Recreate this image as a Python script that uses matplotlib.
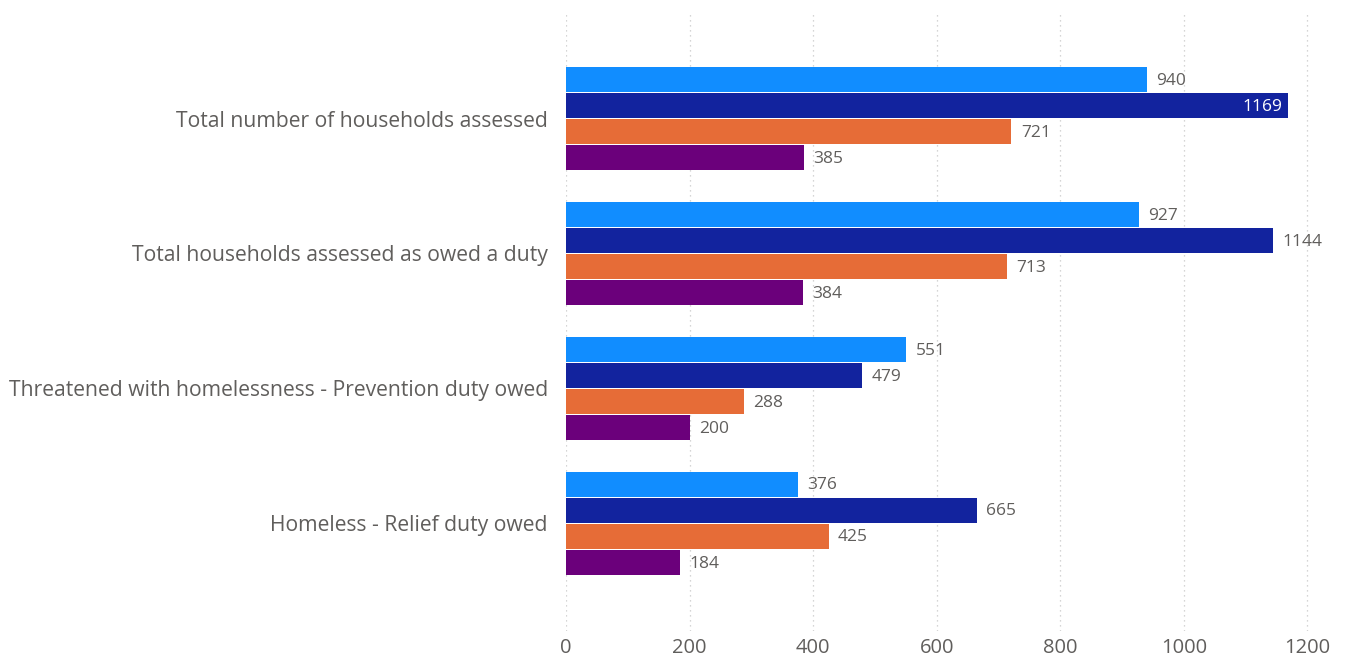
import matplotlib
matplotlib.use("Agg")
import matplotlib.pyplot as plt
import numpy as np

categories = [
    "Total number of households assessed",
    "Total households assessed as owed a duty",
    "Threatened with homelessness - Prevention duty owed",
    "Homeless - Relief duty owed",
]
series_a = [940, 927, 551, 376]
series_b = [1169, 1144, 479, 665]
series_c = [721, 713, 288, 425]
series_d = [385, 384, 200, 184]
x_ticks = [0, 200, 400, 600, 800, 1000, 1200]

colors = ["#118DFF", "#12239E", "#E66C37", "#6B007B"]
series = [series_a, series_b, series_c, series_d]

plt.rcParams["font.family"] = ["Open Sans", "DejaVu Sans"]

fig = plt.figure(figsize=(13.46, 6.59), dpi=100)
ax = fig.add_axes([566 / 1346, 1 - 631 / 659, 760 / 1346, 619 / 659])

y = np.arange(len(categories))
bar_h = 0.193
offsets = [-1.5, -0.5, 0.5, 1.5]
x_max = 1230
for vals, col, off in zip(series, colors, offsets):
    ypos = y + off * bar_h
    ax.barh(ypos, vals, height=bar_h - 0.008, color=col, zorder=3)
    for yy, v in zip(ypos, vals):
        # labels that would run past the right edge go inside the bar
        if v + 80 > x_max:
            ax.text(v - 10, yy + 0.01, f"{v}", va="center", ha="right",
                    color="white", fontsize=12.5, zorder=4)
        else:
            ax.text(v + 15, yy + 0.01, f"{v}", va="center", ha="left",
                    color="#605E5C", fontsize=12.5, zorder=4)

ax.set_xlim(0, x_max)
ax.set_ylim(3.8, -0.79)
ax.set_yticks(y)
ax.set_yticklabels(categories, fontsize=15.2, color="#605E5C")
ax.set_xticks(x_ticks)
ax.set_xticklabels([str(t) for t in x_ticks], fontsize=14.5, color="#605E5C")
ax.tick_params(axis="both", length=0)
ax.tick_params(axis="x", pad=5)
ax.tick_params(axis="y", pad=13)
ax.grid(axis="x", linestyle=(0, (1, 3)), color="#C8C8C8", linewidth=0.9, zorder=0)
for s in ax.spines.values():
    s.set_visible(False)

fig.savefig("out.png", dpi=100, facecolor="white")
